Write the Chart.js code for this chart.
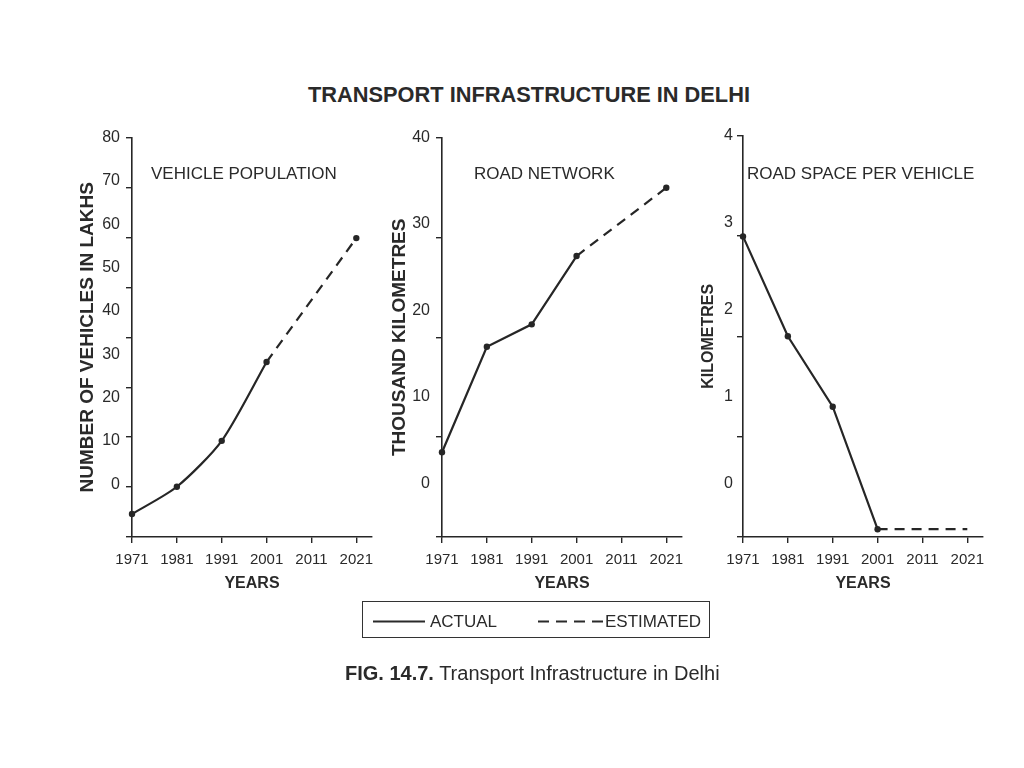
<!DOCTYPE html>
<html>
<head>
<meta charset="utf-8">
<title>Transport Infrastructure in Delhi</title>
<script src="https://cdn.jsdelivr.net/npm/chart.js@4.4.1/dist/chart.umd.min.js"></script>
<style>
  html, body { margin: 0; padding: 0; background: #fff; }
  body { width: 1024px; height: 768px; position: relative; overflow: hidden;
         font-family: "Liberation Sans", Arial, sans-serif; color: #2a2a2a; }
  .txt { position: absolute; white-space: nowrap; line-height: 1; }
  canvas { position: absolute; top: 122px; }
  #legend { position: absolute; left: 362px; top: 601px; width: 346px; height: 35px;
            border: 1.5px solid #333; }
</style>
</head>
<body>
<div class="txt" style="left:308px; top:84px; font-size:21.8px; font-weight:bold;">TRANSPORT INFRASTRUCTURE IN DELHI</div>

<canvas id="c1" width="322" height="475" style="left:60px"></canvas>
<canvas id="c2" width="322" height="475" style="left:370px"></canvas>
<canvas id="c3" width="322" height="475" style="left:671px"></canvas>

<div class="txt" style="left:151px; top:165px; font-size:17px;">VEHICLE POPULATION</div>
<div class="txt" style="left:474px; top:165px; font-size:17px;">ROAD NETWORK</div>
<div class="txt" style="left:747px; top:165px; font-size:17px;">ROAD SPACE PER VEHICLE</div>

<div id="legend"></div>
<svg style="position:absolute; left:0; top:0; width:1024px; height:768px; pointer-events:none">
  <line x1="373" y1="621.5" x2="425" y2="621.5" stroke="#2a2a2a" stroke-width="2"/>
  <line x1="538" y1="621.5" x2="603" y2="621.5" stroke="#2a2a2a" stroke-width="2" stroke-dasharray="11 7"/>
</svg>
<div class="txt" style="left:430px; top:613px; font-size:17px;">ACTUAL</div>
<div class="txt" style="left:605px; top:613px; font-size:17px;">ESTIMATED</div>

<div class="txt" style="left:345px; top:663px; font-size:20px;"><b>FIG. 14.7.</b> Transport Infrastructure in Delhi</div>

<script>
// years on the x axis
const years = [1971, 1981, 1991, 2001, 2011, 2021];
const actualYears = [1971, 1981, 1991, 2001];
const estimatedYears = [2001, 2021];

// vehicle population (lakhs)
const vehicleTicks = [0, 10, 20, 30, 40, 50, 60, 70, 80];
const vehicleActual = [-6.9, -0.6, 10.0, 28.2];
const vehicleEstimated = [28.2, 56.8];

// road network (thousand km)
const roadTicks = [0, 10, 20, 30, 40];
const roadActual = [3.6, 15.8, 18.4, 26.3];
const roadEstimated = [26.3, 34.2];

// road space per vehicle (km)
const spaceTicks = [0, 1, 2, 3, 4];
const spaceActual = [2.84, 1.69, 0.88, -0.53];
const spaceEstimated = [-0.53, -0.53];

const ink = '#262626';
Chart.defaults.font.family = '"Liberation Sans", Arial, sans-serif';
Chart.defaults.color = '#2a2a2a';

function pts(xs, ys) {
    return xs.map((x, i) => ({ x: x, y: ys[i] }));
}

function panel(id, o) {
    new Chart(document.getElementById(id), {
        type: 'line',
        data: {
            datasets: [{
                label: 'ACTUAL',
                data: pts(actualYears, o.actual),
                borderColor: ink,
                borderWidth: 2.2,
                pointRadius: 3.2,
                pointBackgroundColor: ink,
                pointBorderWidth: 0,
                tension: o.tension,
                clip: false
            },
            {
                label: 'ESTIMATED',
                data: pts(estimatedYears, o.estimated),
                borderColor: ink,
                borderWidth: 2.2,
                borderDash: [10, 7],
                pointRadius: o.endPoint,
                pointBackgroundColor: ink,
                pointBorderWidth: 0,
                clip: false
            }]
        },
        options: {
            responsive: false,
            animation: false,
            layout: { padding: { top: 12, right: 10, bottom: 0, left: 0 } },
            plugins: { legend: { display: false }, tooltip: { enabled: false } },
            scales: {
                x: {
                    type: 'linear',
                    min: 1971,
                    max: 2024.5,
                    afterBuildTicks: (s) => { s.ticks = years.map((v) => ({ value: v })); },
                    afterFit: (s) => { s.height = 60; },
                    grid: { drawOnChartArea: false, color: ink, lineWidth: 1.4, tickLength: 6 },
                    border: { color: ink, width: 1.6 },
                    ticks: { font: { size: 15 }, padding: 8, maxRotation: 0, callback: (v) => String(v) },
                    title: { display: true, text: 'YEARS', font: { size: 16, weight: 'bold' }, padding: { top: 0, bottom: 4 } }
                },
                y: {
                    type: 'linear',
                    position: 'left',
                    weight: 1,
                    min: o.yMin,
                    max: o.yMax,
                    afterBuildTicks: (s) => { s.ticks = o.labels.map((v) => ({ value: v })); },
                    afterFit: (s) => { s.width = 66; },
                    grid: { display: false, drawTicks: false },
                    border: { display: false },
                    ticks: { font: { size: 16 }, padding: o.labelPad },
                    title: { display: true, text: o.title, font: { size: o.titleSize, weight: 'bold' }, padding: { top: o.titlePad, bottom: 0 } }
                },
                yt: {
                    type: 'linear',
                    position: 'left',
                    weight: 0,
                    min: 0,
                    max: o.tickMax,
                    afterFit: (s) => { s.width = 6; },
                    grid: { drawOnChartArea: false, color: ink, lineWidth: 1.4, tickLength: 6 },
                    border: { color: ink, width: 1.6 },
                    ticks: { display: false, stepSize: o.tickMax / (o.tickMax === 80 ? 8 : 4) }
                }
            }
        }
    });
}

panel('c1', {
    actual: vehicleActual, estimated: vehicleEstimated, labels: vehicleTicks,
    yMin: -12.2, yMax: 80, tickMax: 80, tension: 0.25, endPoint: [0, 3.2],
    title: 'NUMBER OF VEHICLES IN LAKHS', titleSize: 19, titlePad: 16.6, labelPad: 6
});
panel('c2', {
    actual: roadActual, estimated: roadEstimated, labels: roadTicks,
    yMin: -6.2, yMax: 40, tickMax: 40, tension: 0, endPoint: [0, 3.2],
    title: 'THOUSAND KILOMETRES', titleSize: 19, titlePad: 18.6, labelPad: 6
});
panel('c3', {
    actual: spaceActual, estimated: spaceEstimated, labels: spaceTicks,
    yMin: -0.62, yMax: 4, tickMax: 4, tension: 0, endPoint: [0, 0],
    title: 'KILOMETRES', titleSize: 16, titlePad: 28.4, labelPad: 4
});
</script>
</body>
</html>
